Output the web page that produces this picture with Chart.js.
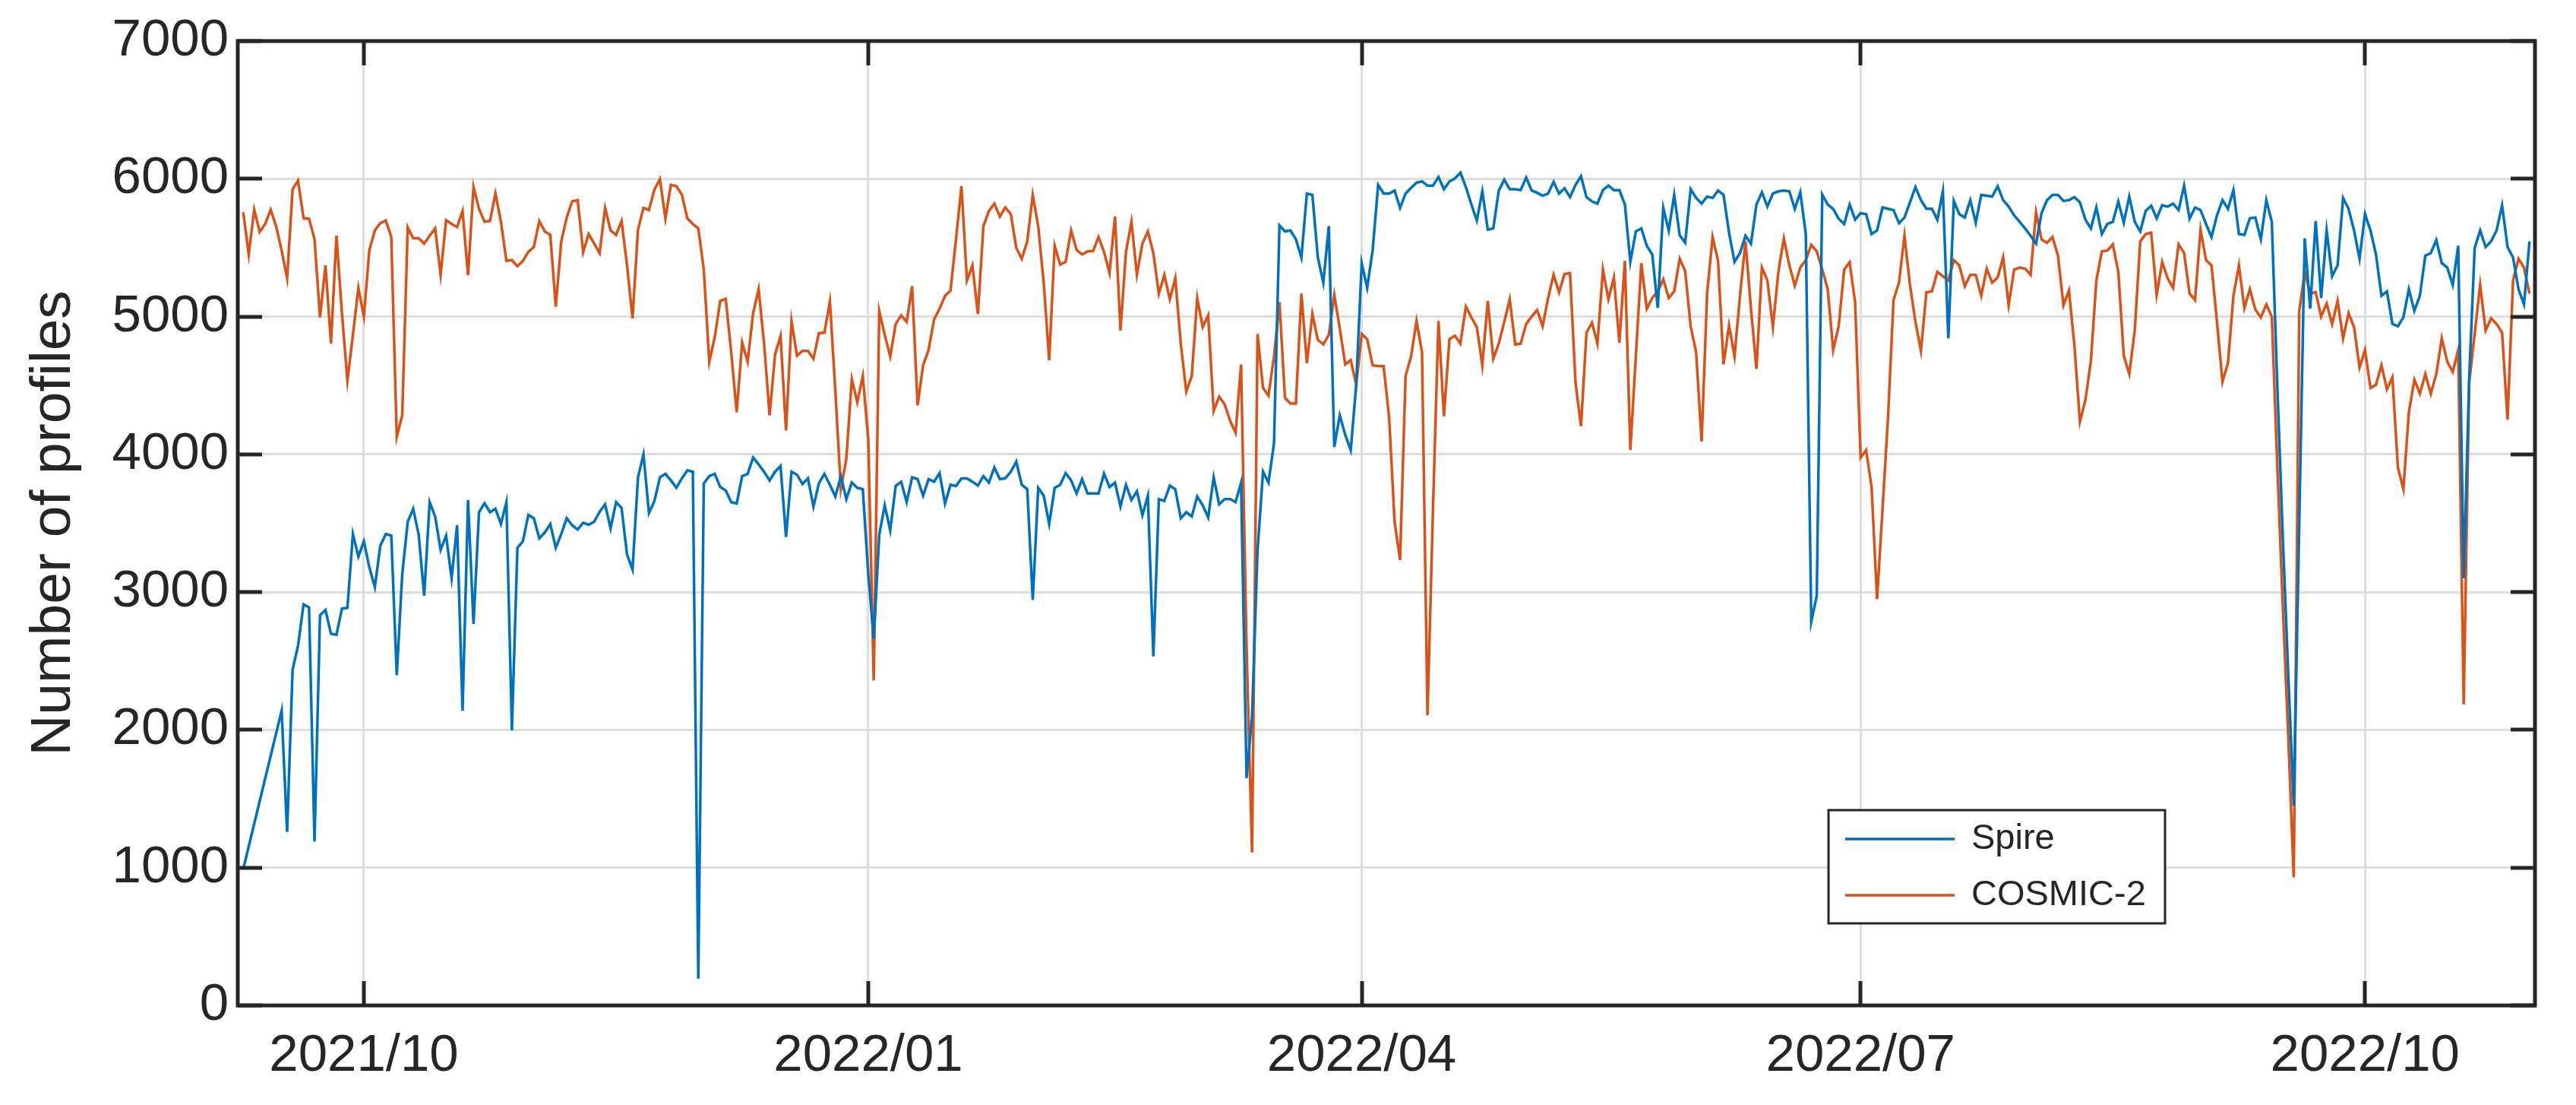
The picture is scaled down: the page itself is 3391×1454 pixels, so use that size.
<!DOCTYPE html>
<html>
<head>
<meta charset="utf-8">
<title>Spire / COSMIC-2 daily profiles</title>
<script src="https://cdn.jsdelivr.net/npm/chart.js@4.4.1/dist/chart.umd.min.js"></script>
<style>
  html, body { margin: 0; padding: 0; background: #fff; }
  #wrap { width: 3391px; height: 1454px; }
</style>
</head>
<body>
<div id="wrap"><canvas id="profilesChart" width="3391" height="1454"></canvas></div>
<script>
// day 0 is 2021-09-09, one value per day
const firstDay = '2021-09-09';
const axisStart = '2021-09-08';
const axisEnd = '2022-11-01';
const tickDates = ['2021-10-01', '2022-01-01', '2022-04-01', '2022-07-01', '2022-10-01'];
const tickLabels = ['2021/10', '2022/01', '2022/04', '2022/07', '2022/10'];
const yTicks = [0, 1000, 2000, 3000, 4000, 5000, 6000, 7000];

// Spire (null = no data that day)
const spire = [
  990, null, null, null, null, null, null, 2140, 1260, 2438,
  2612, 2911, 2889, 1190, 2832, 2870, 2697, 2690, 2880, 2886,
  3422, 3258, 3369, 3180, 3037, 3337, 3422, 3410, 2397, 3132,
  3511, 3605, 3416, 2974, 3653, 3549, 3306, 3410, 3101, 3485,
  2139, 3668, 2769, 3580, 3646, 3580, 3605, 3495, 3653, 1997,
  3321, 3369, 3560, 3536, 3391, 3432, 3495, 3321, 3422, 3536,
  3485, 3454, 3504, 3489, 3511, 3583, 3637, 3463, 3653, 3612,
  3274, 3164, 3833, 4000, 3574, 3662, 3833, 3858, 3811, 3757,
  3826, 3883, 3874, 195, 3788, 3842, 3858, 3763, 3738, 3653,
  3643, 3842, 3858, 3978, 3927, 3874, 3811, 3874, 3915, 3400,
  3874, 3852, 3785, 3826, 3621, 3790, 3858, 3779, 3694, 3842,
  3675, 3795, 3757, 3747, 3132, 2660, 3416, 3631, 3448, 3770,
  3801, 3653, 3833, 3820, 3700, 3820, 3801, 3864, 3643, 3779,
  3770, 3826, 3826, 3801, 3773, 3842, 3795, 3905, 3820, 3826,
  3874, 3946, 3779, 3747, 2943, 3757, 3700, 3495, 3757, 3779,
  3864, 3811, 3716, 3820, 3716, 3716, 3716, 3860, 3763, 3795,
  3621, 3779, 3669, 3732, 3558, 3700, 2533, 3675, 3662, 3773,
  3747, 3536, 3580, 3549, 3694, 3631, 3542, 3833, 3637, 3675,
  3675, 3653, 3795, 1650, 2100, 3300, 3874, 3795, 4079, 5662,
  5618, 5625, 5561, 5429, 5893, 5883, 5429, 5246, 5656, 4053,
  4284, 4142, 4031, 4505, 5388, 5208, 5483, 5956, 5893, 5893,
  5915, 5789, 5893, 5934, 5972, 5981, 5950, 5950, 6013, 5924,
  5981, 6003, 6044, 5940, 5814, 5697, 5909, 5631, 5640, 5915,
  5994, 5924, 5924, 5918, 6009, 5915, 5899, 5877, 5893, 5978,
  5893, 5931, 5867, 5956, 6019, 5867, 5836, 5820, 5918, 5950,
  5918, 5918, 5814, 5397, 5618, 5640, 5514, 5451, 5063, 5789,
  5625, 5883, 5590, 5536, 5924, 5861, 5820, 5871, 5861, 5915,
  5883, 5609, 5397, 5461, 5587, 5530, 5814, 5902, 5798, 5893,
  5909, 5915, 5909, 5782, 5902, 5599, 2785, 2974, 5886, 5814,
  5782, 5710, 5672, 5814, 5703, 5751, 5744, 5599, 5625, 5792,
  5782, 5773, 5678, 5719, 5830, 5940, 5845, 5782, 5782, 5703,
  5909, 4842, 5839, 5744, 5719, 5845, 5681, 5883, 5877, 5871,
  5946, 5845, 5798, 5735, 5688, 5640, 5587, 5530, 5751, 5845,
  5883, 5883, 5839, 5845, 5867, 5830, 5703, 5640, 5792, 5599,
  5672, 5688, 5836, 5681, 5871, 5688, 5618, 5767, 5804, 5713,
  5808, 5798, 5820, 5773, 5950, 5710, 5792, 5773, 5672, 5577,
  5735, 5845, 5782, 5918, 5599, 5593, 5713, 5719, 5561, 5845,
  5688, 4500, 3400, 2400, 1450, 3500, 5568, 5057, 5694, 5135,
  5625, 5293, 5372, 5861, 5782, 5625, 5420, 5744, 5625, 5451,
  5151, 5183, 4946, 4930, 4994, 5199, 5041, 5151, 5442, 5461,
  5555, 5388, 5356, 5230, 5514, 3100, 4550, 5498, 5625, 5505,
  5546, 5625, 5808, 5505, 5429, 5199, 5088, 5546
];

// COSMIC-2
const cosmic = [
  5757, 5451, 5776, 5615, 5672, 5776, 5656, 5480, 5277, 5924,
  5987, 5713, 5710, 5561, 4994, 5372, 4804, 5587, 5025, 4536,
  4867, 5208, 5000, 5483, 5625, 5678, 5697, 5577, 4126, 4284,
  5647, 5568, 5568, 5530, 5587, 5640, 5303, 5700, 5672, 5650,
  5766, 5300, 5940, 5782, 5688, 5694, 5893, 5688, 5404, 5410,
  5366, 5404, 5470, 5505, 5694, 5618, 5593, 5072, 5546, 5719,
  5836, 5845, 5467, 5600, 5530, 5460, 5789, 5625, 5593, 5694,
  5372, 4987, 5631, 5789, 5773, 5924, 5997, 5713, 5956, 5946,
  5886, 5713, 5672, 5640, 5341, 4672, 4852, 5113, 5129, 4741,
  4306, 4811, 4672, 5025, 5199, 4804, 4284, 4725, 4858, 4173,
  4968, 4716, 4751, 4751, 4694, 4880, 4883, 5110, 4457, 3747,
  3968, 4546, 4378, 4568, 4110, 2359, 5041, 4867, 4710, 4946,
  5009, 4962, 5221, 4356, 4646, 4757, 4978, 5057, 5151, 5189,
  5561, 5946, 5262, 5372, 5019, 5656, 5766, 5820, 5726, 5792,
  5744, 5498, 5419, 5546, 5883, 5656, 5246, 4684, 5514, 5378,
  5397, 5625, 5483, 5451, 5473, 5476, 5577, 5470, 5316, 5726,
  4899, 5467, 5688, 5303, 5530, 5618, 5461, 5167, 5303, 5126,
  5278, 4804, 4457, 4568, 5135, 4924, 5009, 4315, 4419, 4363,
  4243, 4157, 4653, 2600, 1110, 4874, 4483, 4426, 4710, 5104,
  4410, 4369, 4369, 5167, 4662, 5019, 4830, 4798, 4867, 5158,
  4915, 4653, 4684, 4505, 4874, 4836, 4646, 4640, 4640, 4268,
  3511, 3233, 4568, 4710, 4968, 4741, 2107, 3600, 4968, 4277,
  4836, 4861, 4804, 5072, 4994, 4924, 4646, 5113, 4694, 4804,
  4962, 5126, 4798, 4804, 4946, 5000, 5047, 4930, 5135, 5303,
  5177, 5309, 5315, 4520, 4205, 4883, 4956, 4804, 5341, 5126,
  5284, 4811, 5404, 4031, 4710, 5388, 5057, 5135, 5183, 5271,
  5135, 5183, 5420, 5330, 4930, 4741, 4094, 5167, 5577, 5404,
  4653, 4937, 4710, 5151, 5546, 5057, 4621, 5356, 5262, 4924,
  5325, 5568, 5372, 5224, 5356, 5410, 5520, 5473, 5341, 5199,
  4757, 4930, 5341, 5394, 5104, 3975, 4031, 3763, 2949, 3605,
  4268, 5120, 5246, 5587, 5230, 4962, 4751, 5177, 5183, 5325,
  5293, 5262, 5410, 5372, 5221, 5303, 5303, 5151, 5347, 5246,
  5284, 5429, 5082, 5341, 5356, 5347, 5303, 5757, 5561, 5536,
  5577, 5442, 5082, 5189, 4789, 4236, 4394, 4678, 5262, 5473,
  5479, 5524, 5325, 4716, 4583, 4899, 5546, 5599, 5609, 5158,
  5397, 5278, 5208, 5524, 5461, 5167, 5120, 5631, 5410, 5372,
  4962, 4527, 4662, 5151, 5372, 5063, 5199, 5050, 4994, 5088,
  5000, 3920, 2900, 1950, 930, 5040, 5325, 5167, 5177, 5000,
  5095, 4946, 5113, 4842, 5025, 4924, 4631, 4757, 4482, 4505,
  4647, 4473, 4558, 3905, 3747, 4306, 4542, 4441, 4583, 4441,
  4583, 4842, 4672, 4599, 4757, 2186, 4520, 4874, 5230, 4899,
  4987, 4946, 4883, 4252, 5262, 5420, 5356, 5167
];

function dayIndex(iso) {
  const ms = Date.parse(iso + 'T00:00:00Z') - Date.parse(firstDay + 'T00:00:00Z');
  return Math.round(ms / 86400000);
}

const tickDays = tickDates.map(dayIndex);
const axisColor = '#262626';
const fontFamily = '"Liberation Sans", Arial, Helvetica, sans-serif';

// MATLAB style box, inward ticks and legend
const matlabFrame = {
  id: 'matlabFrame',
  afterDatasetsDraw(chart) {
    const { ctx, chartArea: a, scales } = chart;
    const tickLen = 32;
    ctx.save();
    ctx.strokeStyle = axisColor;
    ctx.lineWidth = 5;
    ctx.beginPath();
    yTicks.forEach(v => {
      const y = Math.round(scales.y.getPixelForValue(v));
      ctx.moveTo(a.left, y); ctx.lineTo(a.left + tickLen, y);
      ctx.moveTo(a.right, y); ctx.lineTo(a.right - tickLen, y);
    });
    tickDays.forEach(d => {
      const x = Math.round(scales.x.getPixelForValue(d));
      ctx.moveTo(x, a.bottom); ctx.lineTo(x, a.bottom - tickLen);
      ctx.moveTo(x, a.top); ctx.lineTo(x, a.top + tickLen);
    });
    ctx.stroke();
    ctx.strokeRect(a.left, a.top, a.right - a.left, a.bottom - a.top);

    // legend box
    const box = { x: 2407, y: 1066, w: 443, h: 149 };
    ctx.fillStyle = '#ffffff';
    ctx.fillRect(box.x, box.y, box.w, box.h);
    ctx.lineWidth = 3;
    ctx.strokeRect(box.x, box.y, box.w, box.h);
    ctx.font = '47px ' + fontFamily;
    ctx.textBaseline = 'middle';
    chart.data.datasets.forEach((ds, i) => {
      const cy = box.y + 38 + i * 74;
      ctx.strokeStyle = ds.borderColor;
      ctx.lineWidth = ds.borderWidth;
      ctx.beginPath();
      ctx.moveTo(box.x + 22, cy);
      ctx.lineTo(box.x + 166, cy);
      ctx.stroke();
      ctx.fillStyle = axisColor;
      ctx.fillText(ds.label, box.x + 188, cy);
    });
    ctx.restore();
  }
};

const ctx = document.getElementById('profilesChart').getContext('2d');
new Chart(ctx, {
  type: 'line',
  data: {
    datasets: [
      {
        label: 'Spire',
        data: spire.map((v, i) => ({ x: i, y: v })),
        borderColor: '#0072BD',
        borderWidth: 3.5,
        pointRadius: 0,
        tension: 0,
        spanGaps: true
      },
      {
        label: 'COSMIC-2',
        data: cosmic.map((v, i) => ({ x: i, y: v })),
        borderColor: '#D95319',
        borderWidth: 3.5,
        pointRadius: 0,
        tension: 0
      }
    ]
  },
  options: {
    responsive: false,
    animation: false,
    devicePixelRatio: 1,
    layout: { padding: { top: 54, right: 54, left: 0, bottom: 0 } },
    plugins: {
      legend: { display: false },
      tooltip: { enabled: false }
    },
    scales: {
      x: {
        type: 'linear',
        min: dayIndex(axisStart),
        max: dayIndex(axisEnd),
        afterBuildTicks(scale) {
          scale.ticks = tickDays.map(v => ({ value: v }));
        },
        afterFit(scale) { scale.height = 131; },
        grid: { color: '#dedede', lineWidth: 3, drawTicks: false },
        border: { display: false },
        ticks: {
          color: axisColor,
          padding: 26,
          maxRotation: 0,
          autoSkip: false,
          font: { family: fontFamily, size: 69 },
          callback(value) {
            const k = tickDays.indexOf(value);
            return k >= 0 ? tickLabels[k] : '';
          }
        }
      },
      y: {
        min: 0,
        max: 7000,
        afterBuildTicks(scale) {
          scale.ticks = yTicks.map(v => ({ value: v }));
        },
        afterFit(scale) { scale.width = 313; },
        grid: { color: '#dedede', lineWidth: 3, drawTicks: false },
        border: { display: false },
        ticks: {
          color: axisColor,
          padding: 12,
          font: { family: fontFamily, size: 69 },
          callback(value) { return String(value); }
        },
        title: {
          display: true,
          text: 'Number of profiles',
          color: axisColor,
          padding: { top: 26, bottom: 0 },
          font: { family: fontFamily, size: 75 }
        }
      }
    }
  },
  plugins: [matlabFrame]
});
</script>
</body>
</html>
